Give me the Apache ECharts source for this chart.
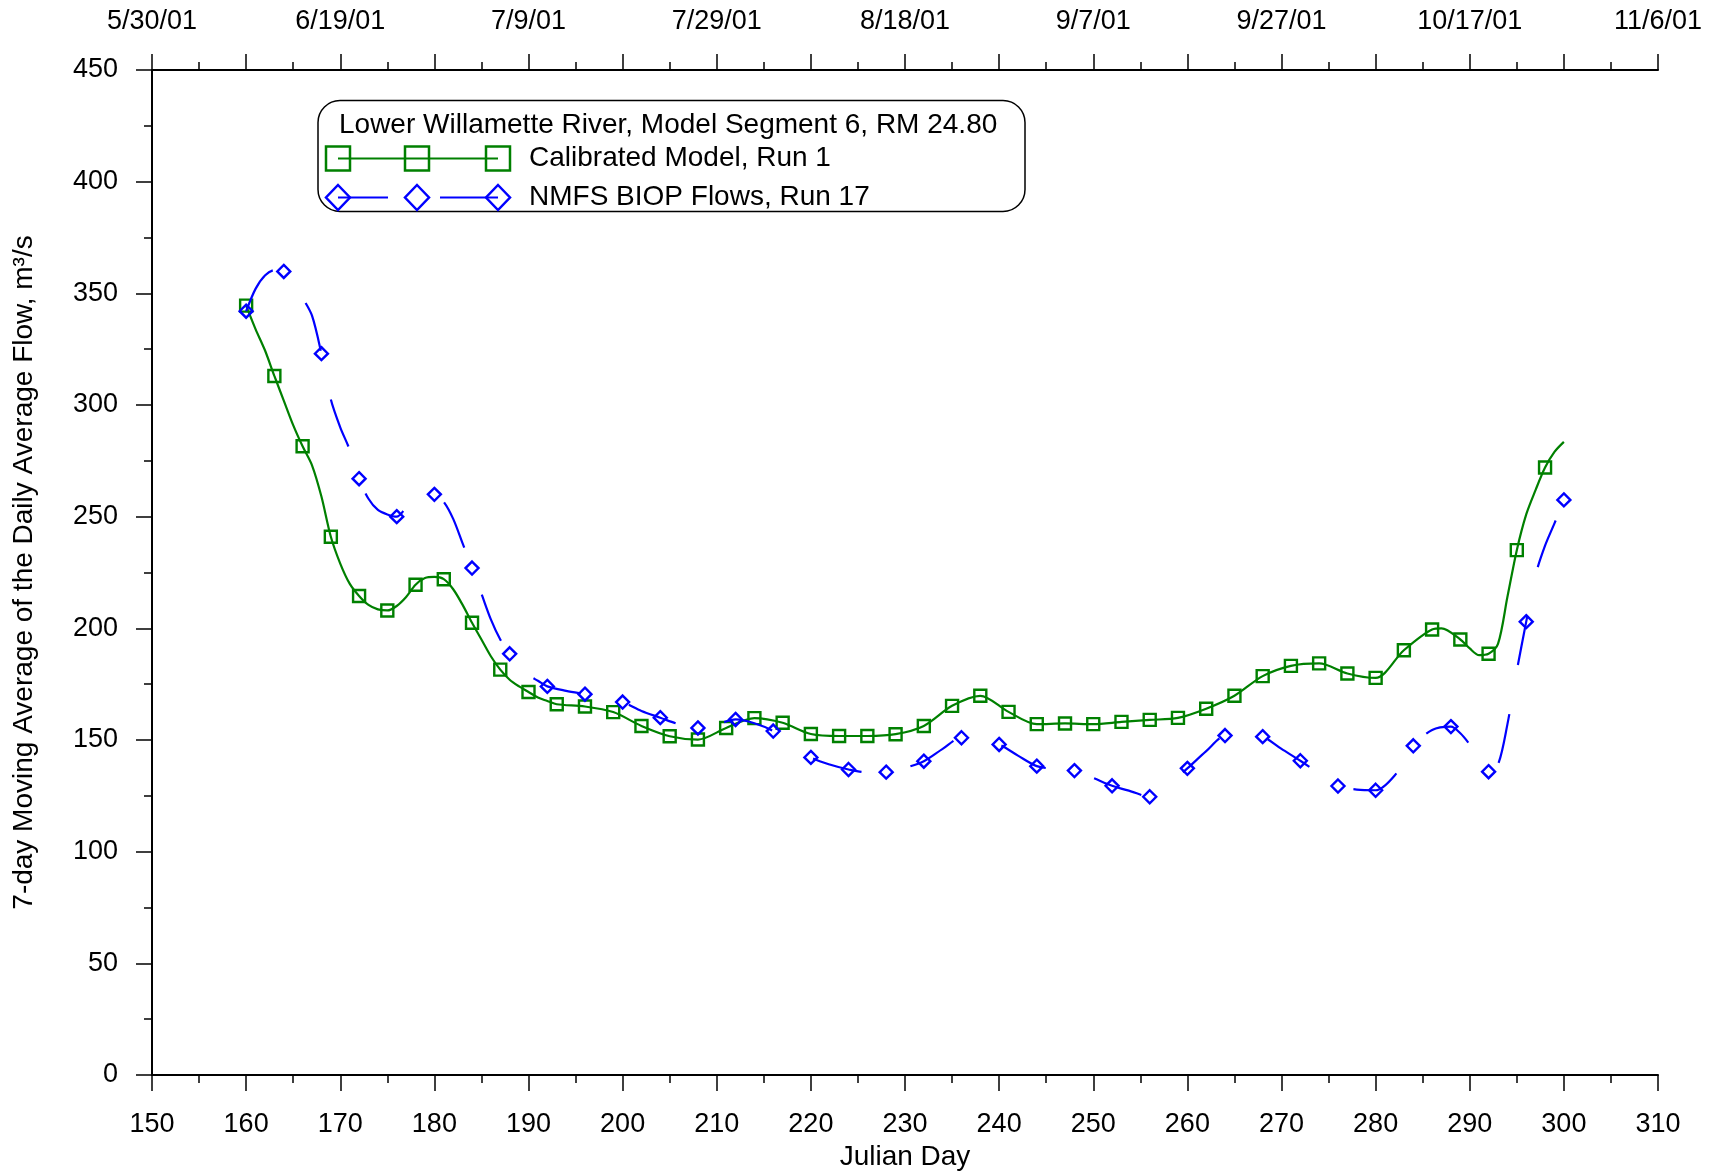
<!DOCTYPE html>
<html>
<head>
<meta charset="utf-8">
<script src="https://cdn.jsdelivr.net/npm/echarts@6/dist/echarts.min.js"></script>
<style>
html,body{margin:0;padding:0;background:#fff;}
#chart{width:1711px;height:1176px;}
</style>
</head>
<body>
<div id="chart"></div>
<script>
// ---- Data ----
const greenDays = [160,161,162,163,164,165,166,167,168,169,170,171,172,173,174,175,176,177,178,179,180,181,182,183,184,185,186,187,188,189,190,191,192,193,
  196,199,202,205,208,211,214,217,220,223,226,229,232,235,238,241,244,247,250,253,256,259,262,265,268,271,274,277,280,283,286,287,289,290,291,292,293,294,295,296,297,298,299,300];
const greenFlow = [344.5,334,324.5,313,302,291,281.5,273,259,241,229,220,214.5,210.5,208.5,208,210,214,219.5,222.5,223,222,217.5,210.5,202.5,195,187.5,181.5,177,174,171.5,169,167.5,166,
  165,162.5,156.3,151.7,150.2,155.4,159.8,157.7,152.7,151.8,151.8,152.6,156.3,165.3,169.8,162.6,157.1,157.4,157.1,158.1,159,159.9,164,169.8,178.6,183.2,184.3,179.8,177.8,190.2,199.5,200,195,191,188,188.6,193,214,235,251,262,272,279,283.5];

const blueDays = [160,161,162,163,164,165,166,167,168,169,170,171,172,173,174,175,176,177,178,179,180,181,182,183,184,185,186,187,188,189,190,191,192,
  194,196,198,200,202,204,206,208,210,212,214,216,218,220,222,224,226,228,230,232,234,236,238,240,242,244,246,248,250,252,254,256,258,260,262,264,266,268,270,272,274,276,278,280,282,284,286,288,289,290,291,292,293,294,295,296,297,298,299,300];
const blueFlow = [342,352,358,360.4,359.8,355,348,340,323,302.5,290,280,267,258,253,251,250,254,257.5,260,260,256.6,249,238,227,215.5,204,195,188.6,183,179,176.5,174,
  172,170.5,169,167,163,160,157,155.4,157,159.2,157.5,154,148,142.2,139,136.8,135.5,135.6,137.5,140.5,146,151,150.5,148,143,138.3,137,136.3,133,129.5,127,124.6,130,137.3,145,152,152.5,151.5,146,140.7,135,129.4,127.8,127.5,134,147.4,154.5,156,153,148,142,135.8,139,157,181,203,224,237,247,257.5];

const greenMarkerStart = 160, greenMarkerStep = 3, greenMarkerEnd = 298;
const blueMarkerStart = 160, blueMarkerStep = 4, blueMarkerEnd = 300;

const topDateDays = [150,170,190,210,230,250,270,290,310];
const topDateLabels = ['5/30/01','6/19/01','7/9/01','7/29/01','8/18/01','9/7/01','9/27/01','10/17/01','11/6/01'];

const seriesNames = ['Calibrated Model, Run 1','NMFS BIOP Flows, Run 17'];
const legendTitle = 'Lower Willamette River, Model Segment 6, RM 24.80';

// ---- Chart ----
const FONT = "'Liberation Sans', Arial, sans-serif";
const GREEN = '#008000', BLUE = '#0000ff';

function buildData(days, vals, start, step, end, sym) {
  return days.map((d, i) => {
    const isMarker = d >= start && d <= end && (d - start) % step === 0;
    return { value: [d, vals[i]], symbol: isMarker ? sym : 'none' };
  });
}

const xCommon = {
  type: 'value', min: 150, max: 310, interval: 10,
  axisLine: { show: true, onZero: false, lineStyle: { color: '#000', width: 2 } },
  axisTick: { show: true, inside: false, length: 16, lineStyle: { color: '#000', width: 1.5 } },
  minorTick: { show: true, splitNumber: 2, length: 8, lineStyle: { color: '#000', width: 1.5 } },
  splitLine: { show: false }, minorSplitLine: { show: false }
};

const option = {
  animation: false,
  backgroundColor: '#fff',
  grid: { left: 152, right: 53, top: 70, bottom: 101, containLabel: false },
  xAxis: [
    Object.assign({}, xCommon, {
      position: 'bottom',
      axisLabel: { color: '#000', fontSize: 27, fontFamily: FONT, margin: 36 },
      name: 'Julian Day', nameLocation: 'middle', nameGap: 68,
      nameTextStyle: { color: '#000', fontSize: 28, fontFamily: FONT }
    }),
    Object.assign({}, xCommon, {
      position: 'top',
      axisLabel: {
        color: '#000', fontSize: 27, fontFamily: FONT, margin: 35,
        formatter: function (v) {
          const k = topDateDays.indexOf(Math.round(v));
          return k >= 0 ? topDateLabels[k] : '';
        }
      }
    })
  ],
  yAxis: {
    type: 'value', min: 0, max: 450, interval: 50,
    axisLine: { show: true, onZero: false, lineStyle: { color: '#000', width: 2 } },
    axisTick: { show: true, inside: false, length: 16, lineStyle: { color: '#000', width: 1.5 } },
    minorTick: { show: true, splitNumber: 2, length: 8, lineStyle: { color: '#000', width: 1.5 } },
    splitLine: { show: false }, minorSplitLine: { show: false },
    axisLabel: { color: '#000', fontSize: 27, fontFamily: FONT, margin: 34 },
    name: '7-day Moving Average of the Daily Average Flow, m³/s',
    nameLocation: 'middle', nameGap: 114,
    nameTextStyle: { color: '#000', fontSize: 28, fontFamily: FONT }
  },
  series: [
    {
      name: seriesNames[0], type: 'line', xAxisIndex: 0, yAxisIndex: 0,
      data: buildData(greenDays, greenFlow, greenMarkerStart, greenMarkerStep, greenMarkerEnd, 'rect'),
      smooth: 0.3, showAllSymbol: true,
      symbolSize: 12,
      lineStyle: { color: GREEN, width: 2.2 },
      itemStyle: { color: 'rgba(0,0,0,0)', borderColor: GREEN, borderWidth: 2.4 },
      z: 3
    },
    {
      name: seriesNames[1], type: 'line', xAxisIndex: 0, yAxisIndex: 0,
      data: buildData(blueDays, blueFlow, blueMarkerStart, blueMarkerStep, blueMarkerEnd, 'diamond'),
      smooth: 0.3, showAllSymbol: true,
      symbolSize: [13, 13],
      lineStyle: { color: BLUE, width: 2.2, type: [50, 50], dashOffset: 0 },
      itemStyle: { color: 'rgba(0,0,0,0)', borderColor: BLUE, borderWidth: 2.4 },
      z: 4
    }
  ],
  graphic: {
    elements: [
      { type: 'rect', z: 100, shape: { x: 318, y: 100.5, width: 707, height: 111, r: 22 },
        style: { fill: '#fff', stroke: '#000', lineWidth: 1.5 } },
      { type: 'text', z: 101, x: 339, y: 125,
        style: { text: legendTitle, font: '28px ' + FONT, fill: '#000', verticalAlign: 'middle' } },
      { type: 'line', z: 101, shape: { x1: 338, y1: 158.5, x2: 498, y2: 158.5 }, style: { stroke: GREEN, lineWidth: 2 } },
      { type: 'rect', z: 102, shape: { x: 326, y: 146.5, width: 24, height: 24 }, style: { fill: 'none', stroke: GREEN, lineWidth: 2.5 } },
      { type: 'rect', z: 102, shape: { x: 405, y: 146.5, width: 24, height: 24 }, style: { fill: 'none', stroke: GREEN, lineWidth: 2.5 } },
      { type: 'rect', z: 102, shape: { x: 486, y: 146.5, width: 24, height: 24 }, style: { fill: 'none', stroke: GREEN, lineWidth: 2.5 } },
      { type: 'text', z: 101, x: 529, y: 158.5,
        style: { text: seriesNames[0], font: '28px ' + FONT, fill: '#000', verticalAlign: 'middle' } },
      { type: 'line', z: 101, shape: { x1: 338, y1: 197.5, x2: 388, y2: 197.5 }, style: { stroke: BLUE, lineWidth: 2 } },
      { type: 'line', z: 101, shape: { x1: 440, y1: 197.5, x2: 498, y2: 197.5 }, style: { stroke: BLUE, lineWidth: 2 } },
      { type: 'polygon', z: 102, shape: { points: [[338,185],[350,197.5],[338,210],[326,197.5]] }, style: { fill: 'none', stroke: BLUE, lineWidth: 2.5 } },
      { type: 'polygon', z: 102, shape: { points: [[417,185],[429,197.5],[417,210],[405,197.5]] }, style: { fill: 'none', stroke: BLUE, lineWidth: 2.5 } },
      { type: 'polygon', z: 102, shape: { points: [[498,185],[510,197.5],[498,210],[486,197.5]] }, style: { fill: 'none', stroke: BLUE, lineWidth: 2.5 } },
      { type: 'text', z: 101, x: 529, y: 197.5,
        style: { text: seriesNames[1], font: '28px ' + FONT, fill: '#000', verticalAlign: 'middle' } }
    ]
  }
};

const chart = echarts.init(document.getElementById('chart'), null, { renderer: 'canvas' });
chart.setOption(option);
</script>
</body>
</html>
